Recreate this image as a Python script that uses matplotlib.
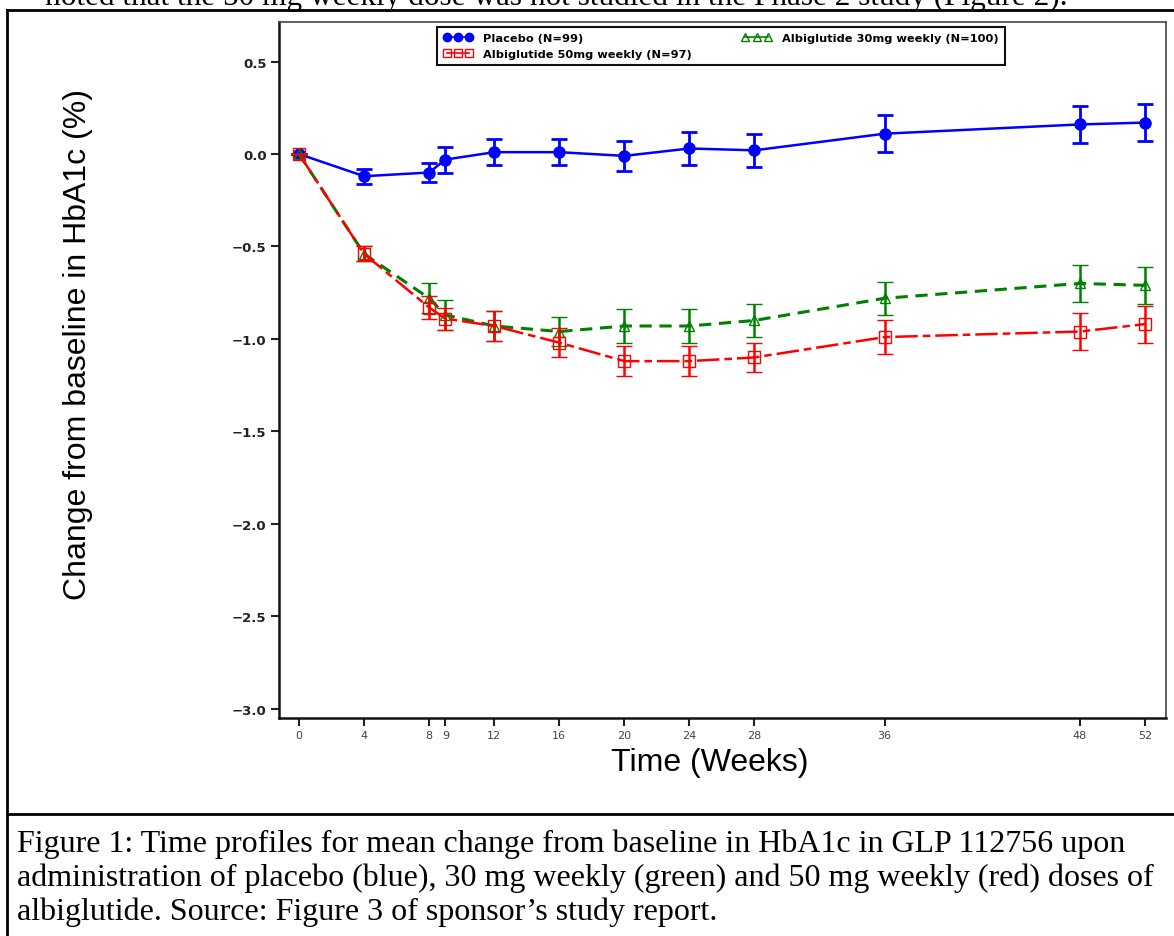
import matplotlib
matplotlib.use("Agg")
import matplotlib.pyplot as plt
from matplotlib.lines import Line2D

# data
weeks = [0, 4, 8, 9, 12, 16, 20, 24, 28, 36, 48, 52]
week_labels = ["0", "4", "8", "9", "12", "16", "20", "24", "28", "36", "48", "52"]

placebo = [0.0, -0.12, -0.10, -0.03, 0.01, 0.01, -0.01, 0.03, 0.02, 0.11, 0.16, 0.17]
placebo_err = [0.0, 0.04, 0.05, 0.07, 0.07, 0.07, 0.08, 0.09, 0.09, 0.10, 0.10, 0.10]

alb30 = [0.0, -0.54, -0.78, -0.87, -0.93, -0.96, -0.93, -0.93, -0.90, -0.78, -0.70, -0.71]
alb30_err = [0.0, 0.04, 0.08, 0.08, 0.08, 0.08, 0.09, 0.09, 0.09, 0.09, 0.10, 0.10]

alb50 = [0.0, -0.54, -0.83, -0.89, -0.93, -1.02, -1.12, -1.12, -1.10, -0.99, -0.96, -0.92]
alb50_err = [0.0, 0.04, 0.06, 0.06, 0.08, 0.08, 0.08, 0.08, 0.08, 0.09, 0.10, 0.10]

yticks = [0.5, 0.0, -0.5, -1.0, -1.5, -2.0, -2.5, -3.0]

top_text = "noted that the 50 mg weekly dose was not studied in the Phase 2 study (Figure 2)."
caption = [
    "Figure 1: Time profiles for mean change from baseline in HbA1c in GLP 112756 upon",
    "administration of placebo (blue), 30 mg weekly (green) and 50 mg weekly (red) doses of",
    "albiglutide. Source: Figure 3 of sponsor\u2019s study report.",
]

W, H = 1174, 937
fig = plt.figure(figsize=(W / 100, H / 100), dpi=100)

def fx(px):
    return px / W

def fy(py):
    return 1 - py / H

ax = fig.add_axes([fx(279), fy(719), fx(1166) - fx(279), fy(23) - fy(719)])

ax.errorbar(weeks, placebo, yerr=placebo_err, color="#0000ff", lw=1.8,
            marker="o", ms=8, capsize=6, elinewidth=2.0, capthick=2.0, zorder=3)
ax.errorbar(weeks, alb30, yerr=alb30_err, color="#008000", lw=2.2, ls=(0, (4, 2.5)),
            marker="^", ms=7, mfc="none", mec="#008000", mew=1.0,
            capsize=6, elinewidth=1.8, capthick=1.8, zorder=4)
ax.errorbar(weeks, alb50, yerr=alb50_err, color="#ff0000", lw=1.8, ls=(0, (9, 2, 3, 2)),
            marker="s", ms=8, mfc="none", mec="#ff0000", mew=1.0,
            capsize=6, elinewidth=1.8, capthick=1.8, zorder=5)

ax.set_xlim(-1.23, 53.3)
ax.set_ylim(-3.05, 0.714)
ax.set_xticks(weeks)
ax.set_xticklabels(week_labels, fontsize=8, color="#444444")
ax.set_yticks(yticks)
ax.set_yticklabels([f"{v:.1f}".replace("-", "\u2212") for v in yticks],
                   fontsize=9.5, fontweight="bold", color="#222222")
ax.tick_params(axis="both", direction="out", length=6, width=1.5, color="#222222")
ax.tick_params(axis="x", pad=3)
ax.tick_params(axis="y", pad=3)

for s in ["left", "bottom"]:
    ax.spines[s].set_linewidth(1.8)
    ax.spines[s].set_color("#111111")
for s in ["top", "right"]:
    ax.spines[s].set_linewidth(1.2)
    ax.spines[s].set_color("#444444")

handles = [
    Line2D([], [], color="#0000ff", marker="o", ms=6, lw=1.2),
    Line2D([], [], color="#ff0000", marker="s", ms=6, mfc="none", lw=1.2),
    Line2D([], [], color="#008000", marker="^", ms=6, mfc="none", lw=1.2),
]
labels = ["Placebo (N=99)", "Albiglutide 50mg weekly (N=97)", "Albiglutide 30mg weekly (N=100)"]
leg = ax.legend(handles, labels, ncol=2, numpoints=3, handlelength=2.6, handletextpad=0.9,
                columnspacing=4.4, loc="upper left", bbox_to_anchor=(0.178, 0.993),
                borderaxespad=0, fancybox=False, framealpha=1, borderpad=0.55,
                labelspacing=0.5, prop={"family": "DejaVu Sans", "weight": "bold", "size": 8.2})
leg.get_frame().set_edgecolor("#111111")
leg.get_frame().set_linewidth(1.5)

fig.text(fx(78), fy(344), "Change from baseline in HbA1c (%)", rotation=90,
         ha="center", va="center", fontsize=23, family="Liberation Sans")
fig.text(fx(710), fy(763), "Time (Weeks)", ha="center", va="center",
         fontsize=23, family="Liberation Sans")

# surrounding document box and text
fig.add_artist(Line2D([fx(7), fx(7)], [fy(11), 0], transform=fig.transFigure, color="black", lw=2))
fig.add_artist(Line2D([fx(7), 1], [fy(11), fy(11)], transform=fig.transFigure, color="black", lw=2))
fig.add_artist(Line2D([fx(7), 1], [fy(815), fy(815)], transform=fig.transFigure, color="black", lw=2))

fig.text(fx(45), fy(5), top_text, ha="left", va="baseline", fontsize=22.5, family="Liberation Serif")
for i, line in enumerate(caption):
    fig.text(fx(17), fy(852 + i * 34), line, ha="left", va="baseline",
             fontsize=23, family="Liberation Serif")

fig.savefig("out.png", dpi=100)
